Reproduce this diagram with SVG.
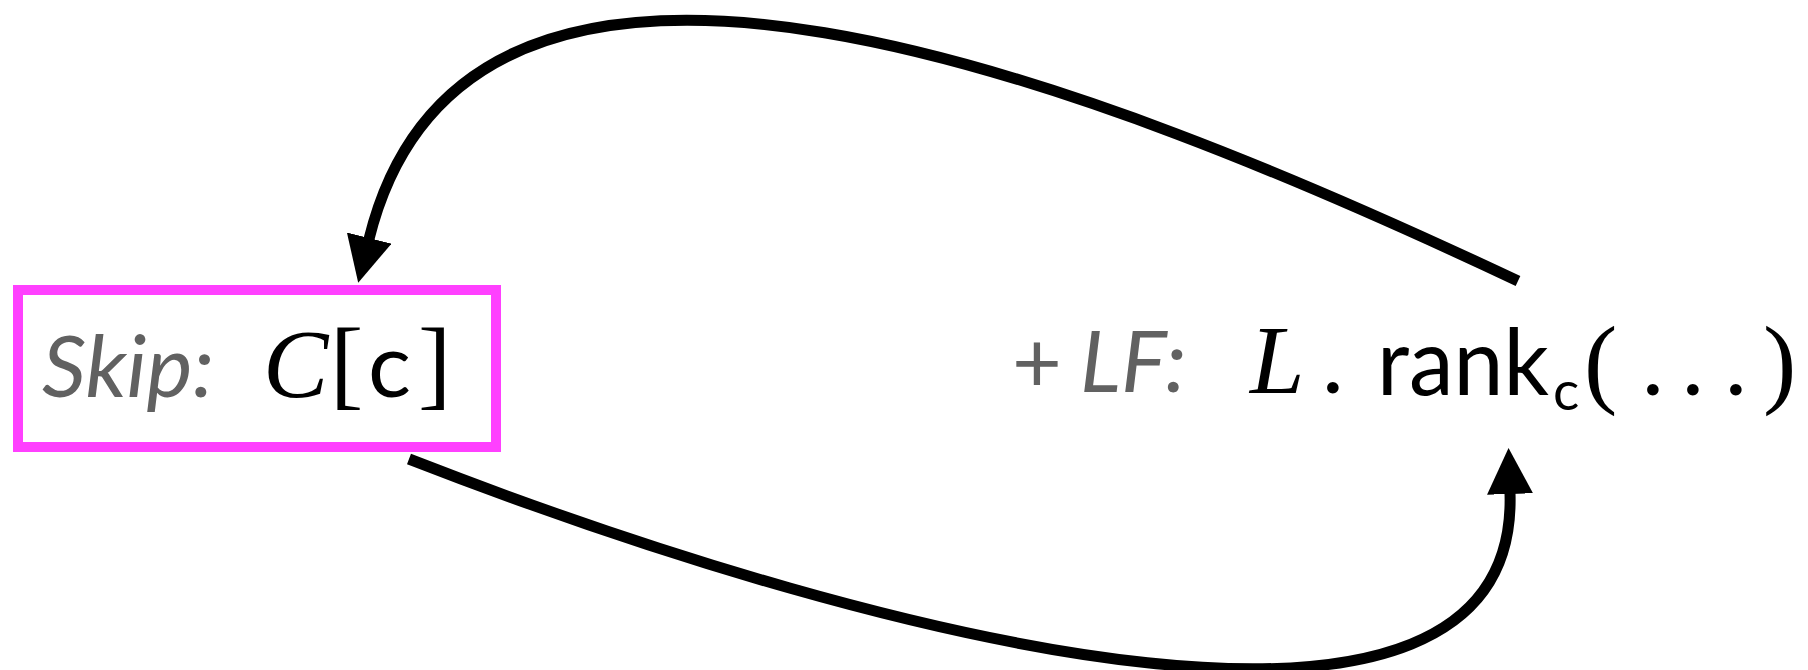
<svg xmlns="http://www.w3.org/2000/svg" width="1808" height="670" viewBox="0 0 1808 670">
  <style>
    .gray { fill: #616161; font-family: Lato, "Open Sans", sans-serif; font-style: italic; font-size: 86px; }
    .plus { fill: #616161; font-family: Lato, "Open Sans", sans-serif; font-size: 86px; }
    .serif { fill: #000; font-family: "Liberation Serif", "Times New Roman", serif; font-style: italic; font-size: 98px; }
    .br { fill: #000; font-family: "Liberation Serif", "Times New Roman", serif; font-size: 100px; }
    .sans { fill: #000; font-family: Lato, "Open Sans", sans-serif; font-size: 92px; }
    .edge { fill: none; stroke: #000; stroke-width: 11; }
  </style>
  <defs>
    <marker id="arrow" markerUnits="userSpaceOnUse" viewBox="0 0 46 46" markerWidth="46" markerHeight="46" refX="1" refY="23" orient="auto">
      <path d="M0,0 L46,23 L0,46 z" fill="#000"/>
    </marker>
  </defs>
  <rect width="1808" height="670" fill="#fff"/>
  <g id="connectors">
    <path class="edge" d="M1518,281 C1100,84 470,-170 369,239" marker-end="url(#arrow)"/>
    <path class="edge" d="M409,459 C900,650 1520,800 1510,493" marker-end="url(#arrow)"/>
  </g>
  <g id="skip">
    <rect x="18" y="290" width="478" height="157" fill="#fff" stroke="#ff40ff" stroke-width="10"/>
    <text class="gray" x="42" y="397" textLength="172" lengthAdjust="spacingAndGlyphs">Skip:</text>
    <text class="serif" x="263" y="397">C</text>
    <text class="br" x="330" y="397">[</text>
    <text class="sans" x="368" y="397" style="font-size:90px">c</text>
    <text class="br" x="418" y="397">]</text>
  </g>
  <g id="lf">
    <text class="plus" x="1012" y="392">+</text>
    <text class="gray" x="1080" y="392">LF:</text>
    <text class="serif" x="1250" y="393">L</text>
    <text class="sans" x="1322" y="393">.</text>
    <text class="sans" x="1377" y="395" style="font-size:94px"><tspan textLength="172" lengthAdjust="spacingAndGlyphs">rank</tspan><tspan x="1553" y="410" style="font-size:55px">c</tspan></text>
    <text class="br" x="1584" y="395">(</text>
    <text class="sans" x="1642" y="395">.</text>
    <text class="sans" x="1682" y="395">.</text>
    <text class="sans" x="1725" y="395">.</text>
    <text class="br" x="1763" y="395">)</text>
  </g>
</svg>
